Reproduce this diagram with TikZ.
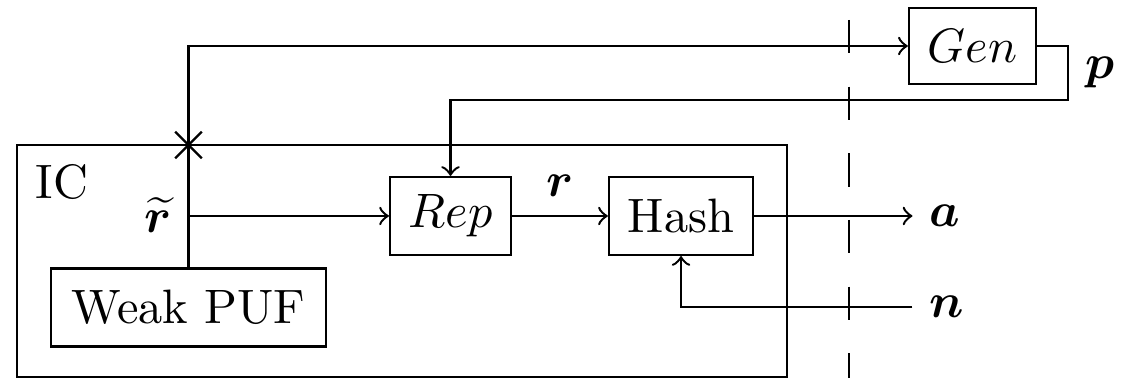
\documentclass[tikz,border=0pt]{standalone}
\usepackage{amsmath,bm}
\usetikzlibrary{shapes.misc}
\begin{document}
\begin{tikzpicture}[x=0.207pt,y=-0.207pt,line width=0.5pt,
  block/.style={draw,inner sep=0pt,minimum height=16.1pt},
  lbl/.style={inner sep=0pt},
  sig/.style={->}]
\useasboundingbox (0,0) rectangle (1128,378);

% chip outline
\coordinate (icnw) at (17,145);
\coordinate (icse) at (787,377);
\draw (icnw) rectangle (icse);
\node[lbl] (iclbl) at (62,182) {IC};

% blocks
\node[block,minimum width=57pt] (puf) at (188.5,307.5) {Weak PUF};
\node[block,minimum width=25pt] (rep) at (450.5,216) {$Rep$};
\node[block,minimum width=29.8pt] (hash) at (681,216) {Hash};
\node[block,minimum width=26.3pt,minimum height=15.7pt] (gen) at (972.5,46) {$Gen$};

% crossing mark on the chip boundary
\node[cross out,draw,minimum size=5pt,inner sep=0pt] (cross) at (188.5,145) {};

% signal labels
\node[lbl] (rt) at (158,215) {$\widetilde{\bm r}$};
\node[lbl] (rl) at (560,186) {$\bm r$};
\node (a) at (945,216) {$\bm a$};
\node (n) at (947,307) {$\bm n$};
\node[lbl] (p) at (1100,72) {$\bm p$};

% connections
\draw[sig] (puf.north) |- (gen.west);
\draw[sig] (puf.north |- rep.west) -- (rep.west);
\draw[sig] (rep.east) -- (hash.west);
\draw[sig] (hash.east) -- (a.west);
\draw[sig] (n.west) -| (hash.south);
\coordinate (pc) at (1068,100);
\draw[sig] (gen.east) -| (pc) -| (rep.north);

% trust boundary
\coordinate (dtop) at (849,20);
\coordinate (dbot) at (849,380);
\draw[dash pattern=on 6.9pt off 6.9pt] (dtop) -- (dbot);
\end{tikzpicture}
\end{document}
